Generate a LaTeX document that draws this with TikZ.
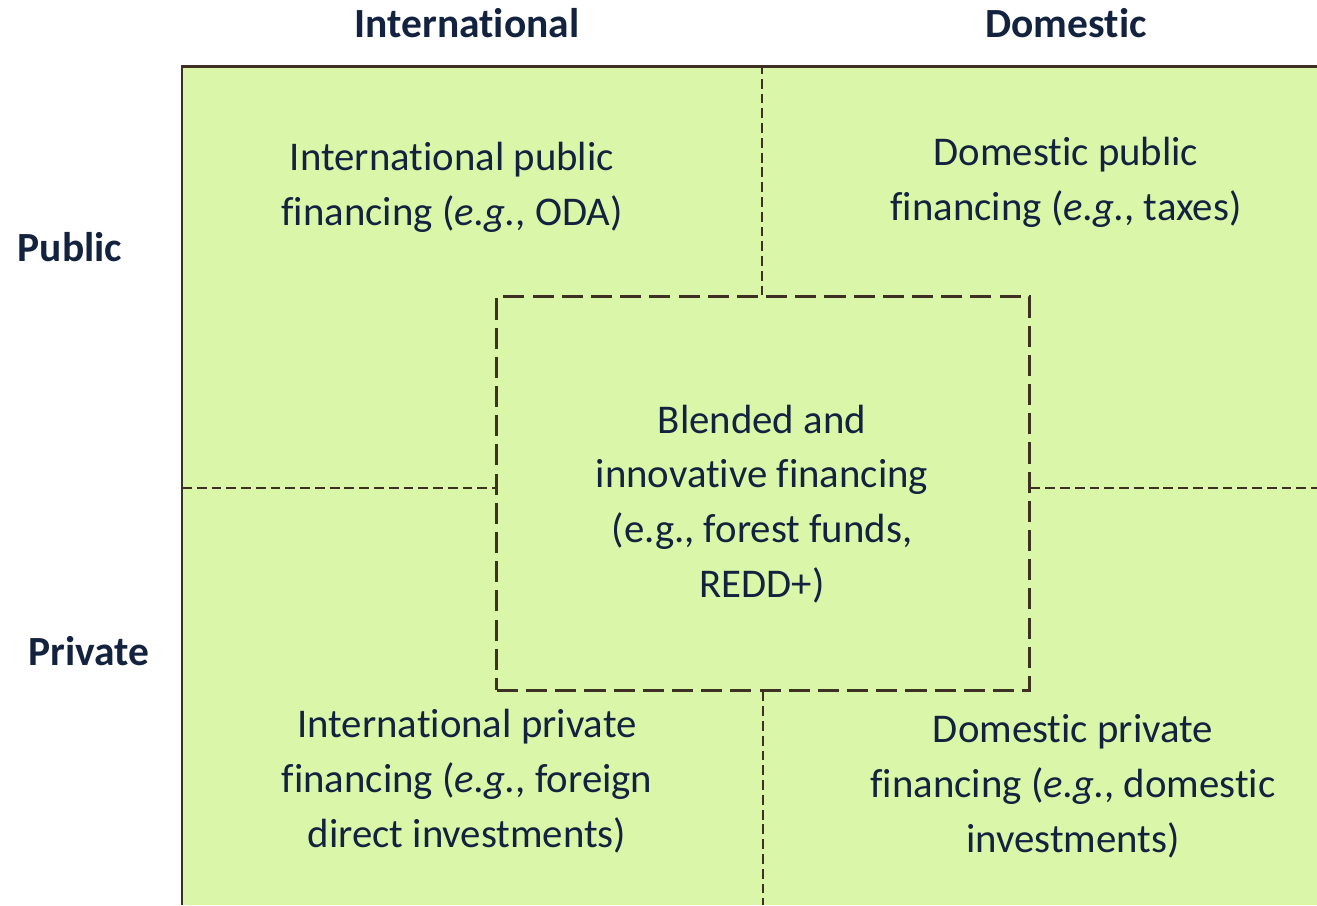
\documentclass[tikz,border=0pt]{standalone}
\usepackage{fontspec}
\setmainfont[Ligatures=NoCommon]{Carlito}
\definecolor{fillg}{HTML}{DAF6A8}
\definecolor{edgec}{HTML}{3E3123}
\definecolor{txt}{HTML}{13233F}
\begin{document}
\begin{tikzpicture}[x=0.01cm,y=-0.01cm,
  lbl/.style={text=txt, font=\fontsize{11.6}{15.6}\selectfont, align=center, inner sep=0},
  head/.style={text=txt, font=\bfseries\fontsize{11.8}{15}\selectfont, inner sep=0},
  thindash/.style={draw=edgec, line width=0.35pt, dash pattern=on 2.8pt off 1.4pt},
  blendbox/.style={draw=edgec, line width=0.8pt, dash pattern=on 6pt off 2.3pt,
    minimum width=5.32cm, minimum height=3.93cm, inner sep=0},
]
\useasboundingbox (0,0) rectangle (1317,905);
\fill[fillg] (182,66) rectangle (1317,905);
\coordinate (tl) at (182,66);
\coordinate (tr) at (1317,66);
\coordinate (bl) at (182,905);
\coordinate (br) at (1317,905);
\draw[edgec, line width=0.85pt] (bl) -- (tl) -- (tr);

\node[blendbox] (blend) at (763,493.5) {};
\coordinate (topmid) at (762,66);
\coordinate (botmid) at (763,905);
\coordinate (leftmid) at (182,488);
\coordinate (rightmid) at (1317,488);
\draw[thindash] (blend.north -| topmid) -- (topmid);
\draw[thindash] (blend.south -| botmid) -- (botmid);
\draw[thindash] (leftmid) -- (leftmid -| blend.west);
\draw[thindash] (rightmid -| blend.east) -- (rightmid);

\node[head] (hint) at (467,23) {International};
\node[head] (hdom) at (1066,23) {Domestic};
\node[head] (hpub) at (70,247) {Public};
\node[head] (hpri) at (89,651) {Private};

\node[lbl] (ipub) at (452,187) {International public\\financing ({\itshape e.g.}, ODA)};
\node[lbl] (dpub) at (1066,182) {Domestic public\\financing ({\itshape e.g.}, taxes)};
\node[lbl] (btxt) at (762,504) {Blended and\\innovative financing\\(e.g., forest funds,\\REDD+)};
\node[lbl] (ipri) at (467,781) {International private\\financing ({\itshape e.g.}, foreign\\direct investments)};
\node[lbl] (dpri) at (1073,786) {Domestic private\\financing ({\itshape e.g.}, domestic\\investments)};
\end{tikzpicture}
\end{document}
